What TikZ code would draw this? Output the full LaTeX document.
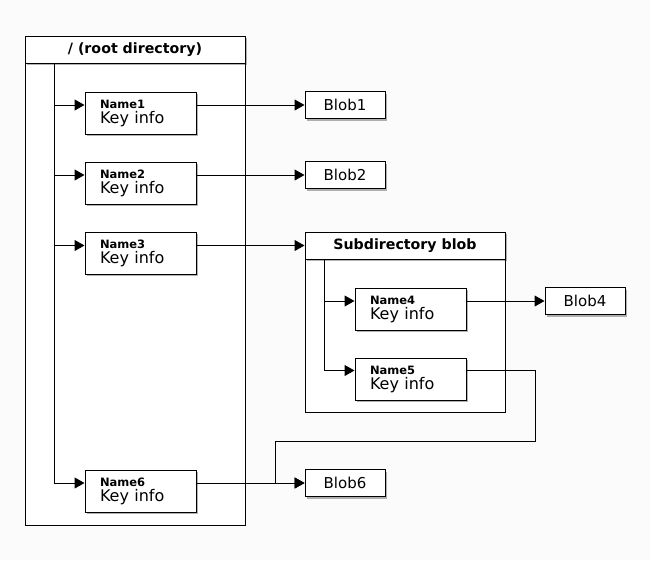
\documentclass[tikz,border=0pt]{standalone}
\usepackage{fontspec}
\setmainfont{DejaVu Sans}
\usetikzlibrary{arrows.meta,shadows,calc}
\definecolor{bgc}{HTML}{FBFBFB}
\begin{document}
\begin{tikzpicture}[x=1pt,y=-1pt, line width=1pt,
  shd/.style={drop shadow={shadow xshift=2pt,shadow yshift=-2pt,fill=black,opacity=0.3}},
  box/.style={draw=black, fill=white, shd, inner sep=0pt},
  namebox/.style={box, minimum width=111pt, minimum height=42pt, align=left, text width=81pt,
    font=\fontsize{16}{15}\selectfont},
  blob/.style={box, minimum width=80pt, minimum height=27pt, font=\fontsize{15}{18}\selectfont},
  header/.style={box, minimum height=27pt, font=\bfseries\fontsize{14.2}{18}\selectfont},
  container/.style={draw=black, fill=white, inner sep=0pt},
  arr/.style={-{Triangle[length=10pt,width=11pt]}},
]
\newcommand{\nmtext}[1]{{\bfseries\fontsize{11.5}{12}\selectfont #1}}
\fill[bgc] (0,0) rectangle (650,560);
\useasboundingbox (0,0) rectangle (650,560);

% root directory
\node[container, minimum width=220pt, minimum height=462pt] (rootbody) at (135,294) {};
\node[header, minimum width=220pt] (root) at (135,49.5) {/ (root directory)};

% subdirectory
\node[container, minimum width=200pt, minimum height=153pt] (subbody) at (405,335.5) {};
\node[header, minimum width=200pt] (sub) at (405,245.5) {Subdirectory blob};

% names
\node[namebox] (n1) at (140.5,113) {\nmtext{Name1}\\Key info};
\node[namebox] (n2) at (140.5,183) {\nmtext{Name2}\\Key info};
\node[namebox] (n3) at (140.5,253) {\nmtext{Name3}\\Key info};
\node[namebox] (n6) at (140.5,491) {\nmtext{Name6}\\Key info};
\node[namebox] (n4) at (410.5,309) {\nmtext{Name4}\\Key info};
\node[namebox] (n5) at (410.5,379) {\nmtext{Name5}\\Key info};

% blobs
\node[blob] (b1) at (345,105) {Blob1};
\node[blob] (b2) at (345,175) {Blob2};
\node[blob] (b4) at (585,301) {Blob4};
\node[blob] (b6) at (345,483) {Blob6};

% root trunk
\coordinate (t1) at ($(root.south west)+(30,0)$);
\draw[arr] (t1) |- (n1.west |- b1.west);
\draw[arr] (t1) |- (n2.west |- b2.west);
\draw[arr] (t1) |- (n3.west |- sub.west);
\draw[arr] (t1) |- (n6.west |- b6.west);

% sub trunk
\coordinate (t2) at ($(sub.south west)+(20,0)$);
\coordinate (y5) at ($(n5.north west)+(0,13)$);
\draw[arr] (t2) |- (n4.west |- b4.west);
\draw[arr] (t2) |- (y5);

% name to blob
\draw[arr] (n1.east |- b1.west) -- (b1.west);
\draw[arr] (n2.east |- b2.west) -- (b2.west);
\draw[arr] (n3.east |- sub.west) -- (sub.west);
\draw[arr] (n4.east |- b4.west) -- (b4.west);
\draw[arr] (n6.east |- b6.west) -- (b6.west);

% name5 route
\coordinate (r1) at (535,441);
\coordinate (r2) at (275,441);
\draw[arr] (n5.east |- y5) -| (r1) -- (r2) |- (b6.west);
\end{tikzpicture}
\end{document}
